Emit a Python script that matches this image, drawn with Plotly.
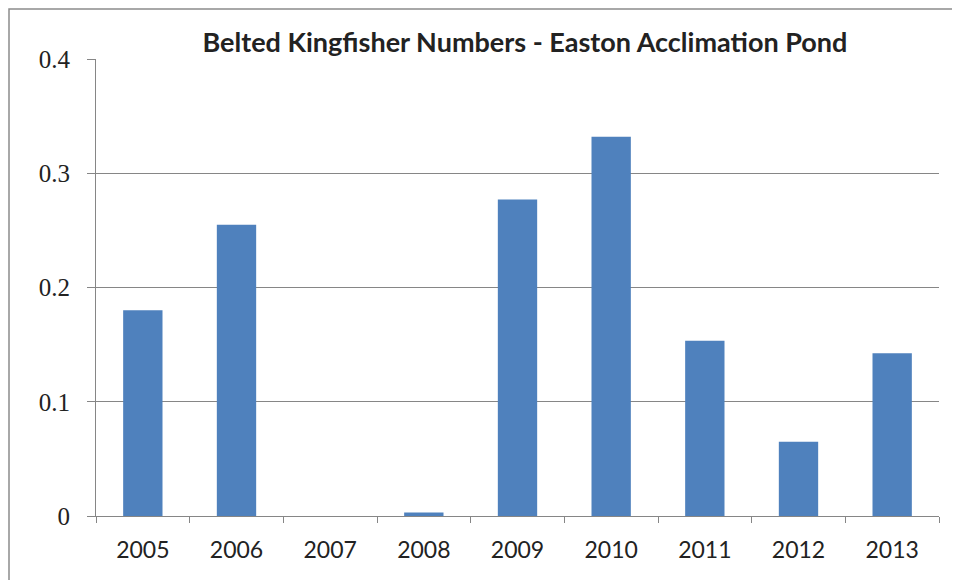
import plotly.graph_objects as go

years = ["2005", "2006", "2007", "2008", "2009", "2010", "2011", "2012", "2013"]
values = [0.18, 0.255, 0.0, 0.003, 0.277, 0.332, 0.1535, 0.065, 0.1425]
title_text = "Belted Kingfisher Numbers - Easton Acclimation Pond"
y_ticks = [0, 0.1, 0.2, 0.3, 0.4]
y_ticklabels = ["0", "0.1", "0.2", "0.3", "0.4"]

fig = go.Figure()
fig.add_trace(go.Bar(x=years, y=values, marker=dict(color="#4F81BD", line=dict(width=0)),
                     width=0.42))

# the page body has an 8px default margin, so margins are compensated
fig.update_layout(
    width=960, height=580,
    margin=dict(l=88, r=29, t=51, b=72, autoexpand=False),
    paper_bgcolor="white", plot_bgcolor="white",
    showlegend=False,
    title=dict(text="<b>" + title_text + "</b>", x=0.5385, xanchor="center",
               y=1 - 35 / 580, yanchor="middle",
               font=dict(family="Lato", size=27, color="#222222")),
    xaxis=dict(type="category", showgrid=False, showline=True, linecolor="#868686", linewidth=1,
               ticks="outside", ticklen=6, tickcolor="#868686", tickson="boundaries",
               automargin=False,
               tickfont=dict(family="Lato", size=23, color="#222222"), ticklabelstandoff=13),
    yaxis=dict(range=[0, 0.4], tickvals=y_ticks, ticktext=y_ticklabels,
               showgrid=True, gridcolor="#868686", gridwidth=1,
               showline=True, linecolor="#868686", linewidth=1,
               ticks="outside", ticklen=8, tickcolor="#868686",
               zeroline=False, automargin=False, ticklabelstandoff=12,
               tickfont=dict(family="Liberation Serif", size=25, color="#222222")),
    shapes=[dict(type="rect", xref="paper", yref="paper",
                 x0=(9 - 96) / 843, x1=(985 - 96) / 843,
                 y0=(516 - 600) / 457, y1=(516 - 9) / 457,
                 line=dict(color="#8c8c8c", width=1.5), fillcolor="rgba(0,0,0,0)", layer="below")],
)

fig.write_html("out.html")
